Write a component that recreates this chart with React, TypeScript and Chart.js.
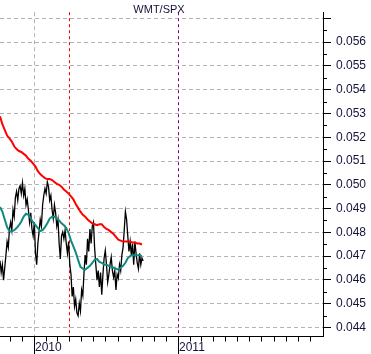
import React, { useEffect, useRef } from 'react';
import { Chart, registerables } from 'chart.js';

Chart.register(...registerables);

// ---- data (x in days relative to 1 Jan 2010) ----
const TITLE = 'WMT/SPX';
const START_DAY = -86;
const PRICE_STEP_DAYS = 3;
const MA_STEP_DAYS = 6;

const ratio = [
  0.04680, 0.04631, 0.04664, 0.04599, 0.04651, 0.04704, 0.04761, 0.04736, 0.04814, 0.04842,
  0.04809, 0.04895, 0.04866, 0.04947, 0.04972, 0.04935, 0.04984, 0.04996, 0.04963, 0.05008,
  0.04955, 0.04984, 0.04915, 0.04939, 0.04895, 0.04842, 0.04882, 0.04814, 0.04785, 0.04842,
  0.04712, 0.04664, 0.04753, 0.04801, 0.04854, 0.04826, 0.04915, 0.04955, 0.04984, 0.04963,
  0.05012, 0.04992, 0.04935, 0.04955, 0.04895, 0.04858, 0.04915, 0.04882, 0.04826, 0.04854,
  0.04753, 0.04688, 0.04785, 0.04801, 0.04773, 0.04809, 0.04753, 0.04712, 0.04761, 0.04664,
  0.04623, 0.04530, 0.04570, 0.04489, 0.04518, 0.04461, 0.04449, 0.04501, 0.04469, 0.04558,
  0.04534, 0.04631, 0.04704, 0.04664, 0.04773, 0.04720, 0.04814, 0.04753, 0.04826, 0.04842,
  0.04732, 0.04664, 0.04599, 0.04639, 0.04570, 0.04631, 0.04538, 0.04623, 0.04692, 0.04724,
  0.04664, 0.04591, 0.04623, 0.04664, 0.04696, 0.04639, 0.04611, 0.04639, 0.04558, 0.04623,
  0.04607, 0.04664, 0.04639, 0.04704, 0.04736, 0.04809, 0.04887, 0.04854, 0.04785, 0.04720,
  0.04761, 0.04704, 0.04753, 0.04664, 0.04761, 0.04712, 0.04672, 0.04647, 0.04712, 0.04664,
  0.04692, 0.04680,
];

const ma200 = [
  0.05288, 0.05255, 0.05231, 0.05207, 0.05195, 0.05182, 0.05162, 0.05150, 0.05142, 0.05138,
  0.05130, 0.05122, 0.05109, 0.05101, 0.05089, 0.05077, 0.05057, 0.05045, 0.05036, 0.05028,
  0.05024, 0.05024, 0.05020, 0.05012, 0.05004, 0.05000, 0.04992, 0.04980, 0.04972, 0.04963,
  0.04951, 0.04939, 0.04919, 0.04903, 0.04887, 0.04874, 0.04866, 0.04854, 0.04846, 0.04838,
  0.04834, 0.04830, 0.04834, 0.04834, 0.04822, 0.04814, 0.04809, 0.04801, 0.04793, 0.04781,
  0.04769, 0.04765, 0.04761, 0.04761, 0.04761, 0.04761, 0.04757, 0.04757, 0.04753, 0.04753,
  0.04749,
];

const ma50 = [
  0.04907, 0.04887, 0.04854, 0.04822, 0.04805, 0.04805, 0.04809, 0.04818, 0.04830, 0.04846,
  0.04866, 0.04878, 0.04874, 0.04858, 0.04842, 0.04830, 0.04818, 0.04805, 0.04809, 0.04822,
  0.04838, 0.04858, 0.04866, 0.04866, 0.04858, 0.04850, 0.04838, 0.04830, 0.04818, 0.04797,
  0.04765, 0.04741, 0.04716, 0.04684, 0.04655, 0.04647, 0.04643, 0.04651, 0.04659, 0.04672,
  0.04684, 0.04688, 0.04676, 0.04672, 0.04664, 0.04664, 0.04659, 0.04655, 0.04651, 0.04647,
  0.04643, 0.04651, 0.04659, 0.04672, 0.04692, 0.04700, 0.04704, 0.04704, 0.04704, 0.04704,
  0.04700,
];

const yTicks = [0.044, 0.045, 0.046, 0.047, 0.048, 0.049, 0.05, 0.051, 0.052, 0.053, 0.054, 0.055, 0.056, 0.057];
const yearLabels = ['2010', '2011'];
const yearDays = [0, 365];
const markerDay = 89;

const X_MIN = -86;
const X_MAX = 733;
const Y_MIN = 0.04364;
const Y_MAX = 0.05726;

const FONT = '"Liberation Sans", Arial, sans-serif';
const TEXT_COLOR = '#141438';

function monthStarts(): number[] {
  const base = Date.UTC(2010, 0, 1);
  const out: number[] = [];
  for (let y = 2009; y <= 2011; y++) {
    for (let m = 0; m < 12; m++) {
      const d = (Date.UTC(y, m, 1) - base) / 86400000;
      if (d > X_MIN && d < X_MAX - 5) out.push(d);
    }
  }
  return out;
}

const overlay = {
  id: 'overlay',
  beforeDatasetsDraw(chart: any) {
    const { ctx, chartArea: a, scales } = chart;
    const x = scales.x;
    ctx.save();
    const vline = (day: number, color: string, dash: number[]) => {
      const px = Math.round(x.getPixelForValue(day)) + 0.5;
      ctx.strokeStyle = color;
      ctx.lineWidth = 1;
      ctx.setLineDash(dash);
      ctx.beginPath();
      ctx.moveTo(px, a.top);
      ctx.lineTo(px, a.bottom);
      ctx.stroke();
    };
    vline(yearDays[0], '#b4b4b4', [4, 3]);
    vline(markerDay, '#ff0000', [3, 3]);
    vline(yearDays[1], '#800080', [3, 3]);
    ctx.restore();
  },
  afterDraw(chart: any) {
    const { ctx, chartArea: a, scales } = chart;
    const x = scales.x;
    const y = scales.y;
    ctx.save();
    ctx.setLineDash([]);
    ctx.strokeStyle = '#000';
    ctx.lineWidth = 1;
    // x axis line
    const by = Math.round(a.bottom) + 0.5;
    ctx.beginPath();
    ctx.moveTo(a.left, by);
    ctx.lineTo(a.right + 0.5, by);
    ctx.stroke();
    // month ticks
    for (const d of monthStarts()) {
      const px = Math.round(x.getPixelForValue(d)) + 0.5;
      const isYear = yearDays.includes(d);
      ctx.beginPath();
      ctx.moveTo(px, by);
      ctx.lineTo(px, isYear ? chart.height : by + 5);
      ctx.stroke();
    }
    // year labels
    ctx.fillStyle = TEXT_COLOR;
    ctx.font = `12px ${FONT}`;
    ctx.textAlign = 'left';
    ctx.textBaseline = 'alphabetic';
    yearDays.forEach((d, i) => {
      const px = Math.round(x.getPixelForValue(d)) + 1;
      ctx.fillText(yearLabels[i], px, 351);
    });
    // minor y ticks
    const rx = Math.round(a.right);
    for (const v of yTicks) {
      const mv = v + 0.0005;
      if (mv > Y_MAX) continue;
      const py = Math.round(y.getPixelForValue(mv)) + 0.5;
      ctx.beginPath();
      ctx.moveTo(rx, py);
      ctx.lineTo(rx + 4, py);
      ctx.stroke();
    }
    // title
    ctx.font = `11px ${FONT}`;
    ctx.textAlign = 'center';
    ctx.textBaseline = 'middle';
    ctx.fillText(TITLE, 159, 10);
    ctx.restore();
  },
};

export default function App() {
  const ref = useRef<HTMLCanvasElement>(null);
  useEffect(() => {
    if (!ref.current) return;
    const toPts = (vals: number[], step: number) => vals.map((v, i) => ({ x: START_DAY + step * i, y: v }));
    const chart = new Chart(ref.current, {
      type: 'line',
      data: {
        datasets: [
          { label: '200d', data: toPts(ma200, MA_STEP_DAYS), borderColor: '#ff0000', borderWidth: 2, pointRadius: 0, tension: 0, fill: false },
          { label: '50d', data: toPts(ma50, MA_STEP_DAYS), borderColor: '#0e8a80', borderWidth: 2, pointRadius: 0, tension: 0, fill: false },
          { label: TITLE, data: toPts(ratio, PRICE_STEP_DAYS), borderColor: '#000000', borderWidth: 1.3, pointRadius: 0, tension: 0, fill: false },
        ],
      },
      options: {
        responsive: false,
        animation: false,
        events: [],
        layout: { padding: { left: 0, top: 0, right: 0, bottom: 18 } },
        plugins: { legend: { display: false }, tooltip: { enabled: false }, title: { display: false } },
        scales: {
          x: { type: 'linear', min: X_MIN, max: X_MAX, display: false },
          y: {
            type: 'linear',
            position: 'right',
            min: Y_MIN,
            max: Y_MAX,
            afterBuildTicks: (scale: any) => {
              scale.ticks = yTicks.map((v) => ({ value: v }));
            },
            afterFit: (scale: any) => {
              scale.width = 48;
            },
            ticks: {
              autoSkip: false,
              padding: 5,
              color: TEXT_COLOR,
              font: { family: FONT, size: 12 },
              callback: (value: any) => (Number(value) > 0.0565 ? '' : Number(value).toFixed(3)),
            },
            grid: { color: '#b4b4b4', lineWidth: 1, tickLength: 8, tickColor: '#000', tickWidth: 1 },
            border: { display: true, color: '#000', width: 1, dash: [4, 3] },
          },
        },
      },
      plugins: [overlay],
    } as any);
    return () => chart.destroy();
  }, []);
  return (
    <div style={{ position: 'absolute', left: 0, top: 0, width: 371, height: 354, background: '#fff' }}>
      <canvas ref={ref} width={371} height={354} style={{ display: 'block' }} />
    </div>
  );
}
